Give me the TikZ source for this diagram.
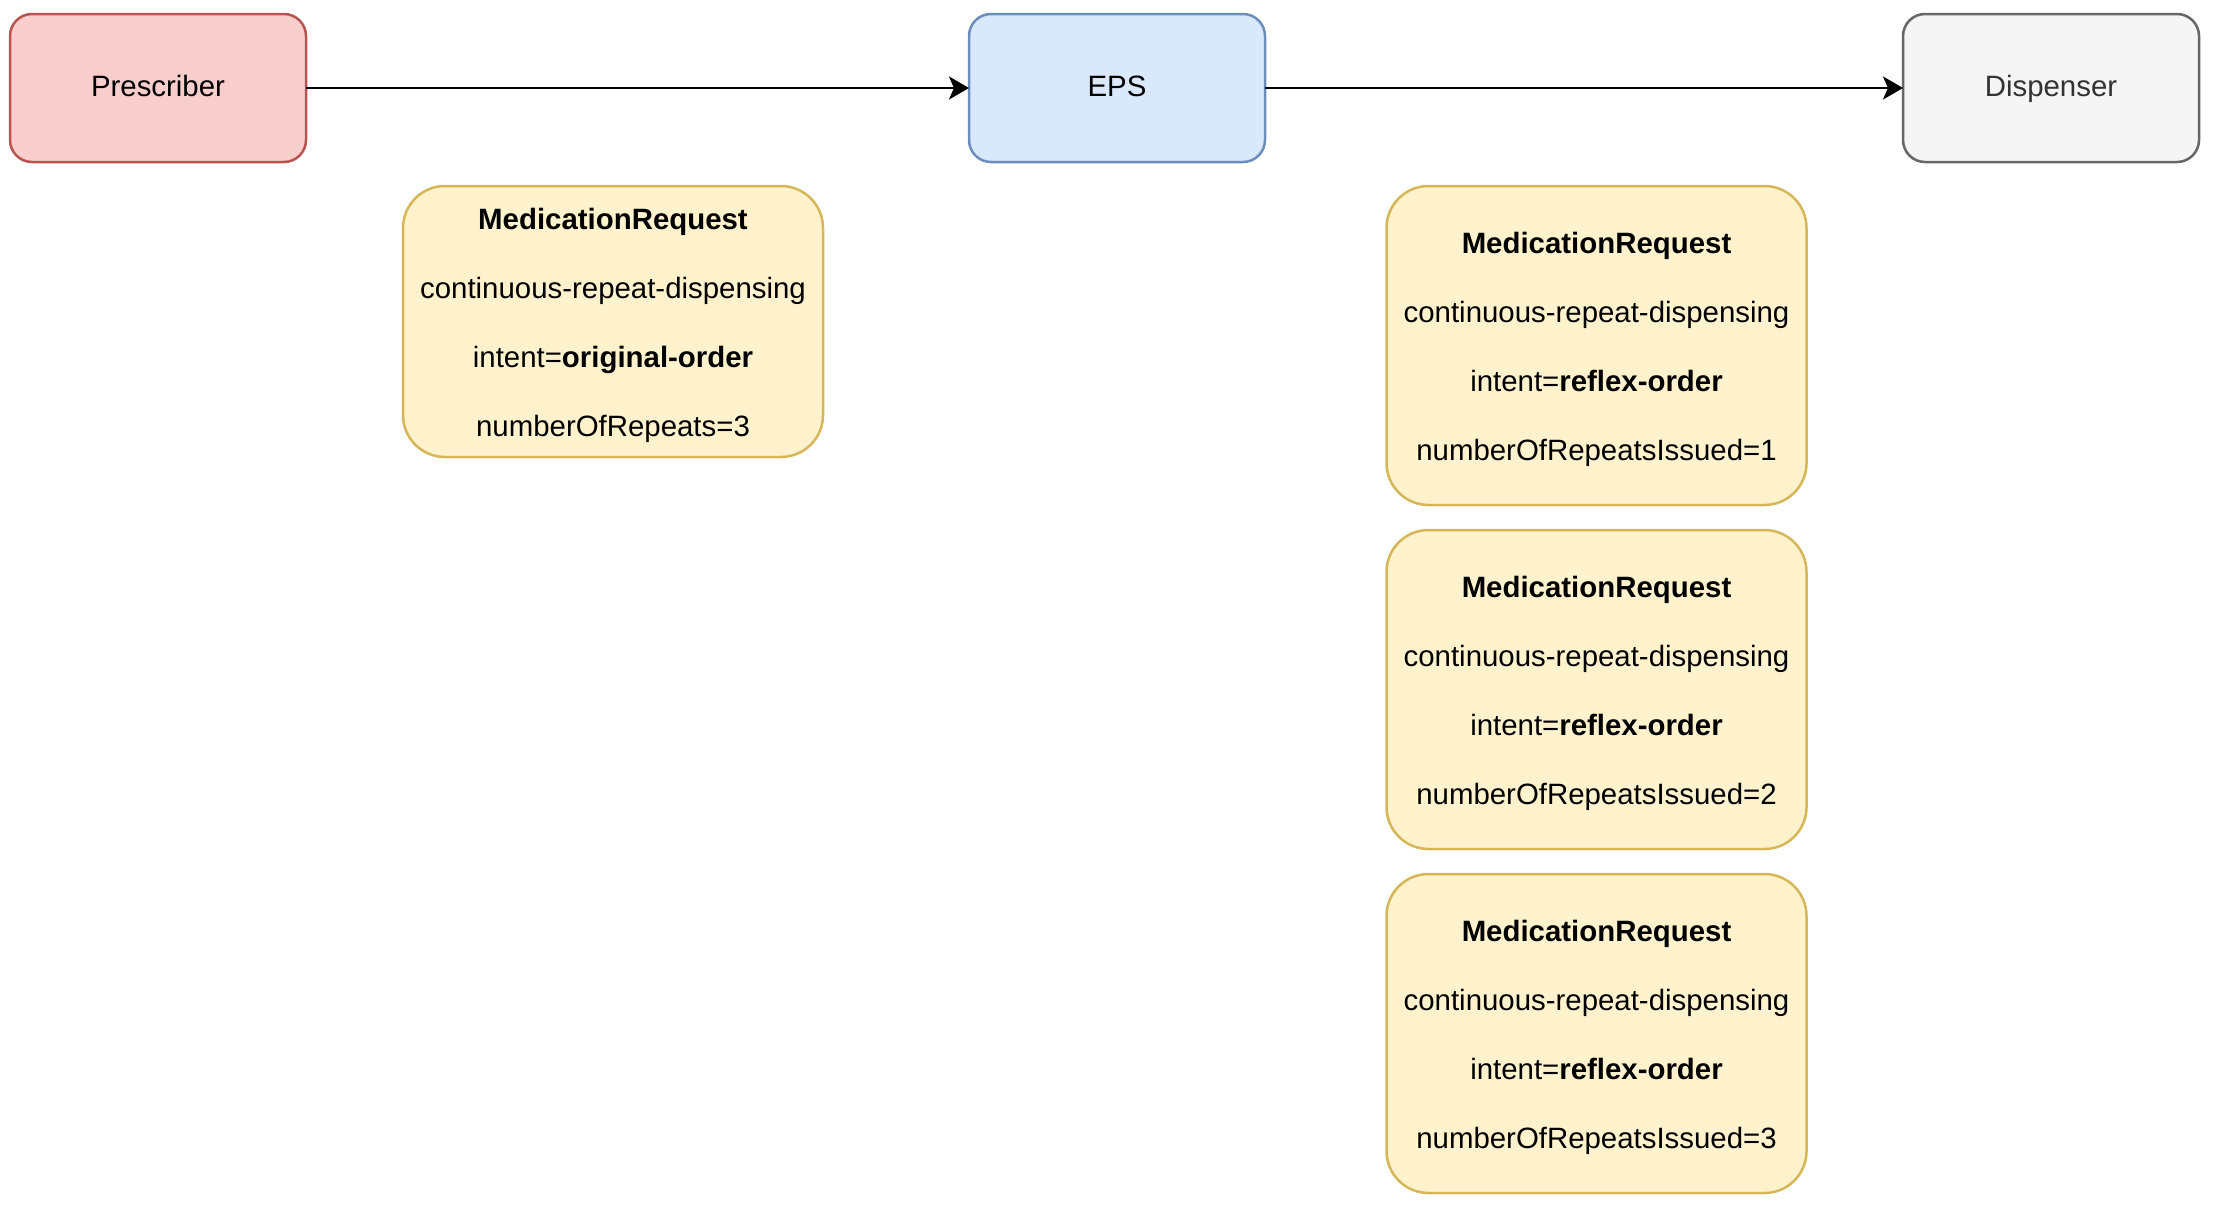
\documentclass[tikz,border=0pt]{standalone}
\usepackage{fontspec}
\setmainfont{Liberation Sans}
\usetikzlibrary{arrows.meta, positioning}

\definecolor{presfill}{HTML}{F8CECC}
\definecolor{presdraw}{HTML}{B85450}
\definecolor{epsfill}{HTML}{DAE8FC}
\definecolor{epsdraw}{HTML}{6C8EBF}
\definecolor{dispfill}{HTML}{F5F5F5}
\definecolor{dispdraw}{HTML}{666666}
\definecolor{disptext}{HTML}{333333}
\definecolor{msgfill}{HTML}{FFF2CC}
\definecolor{msgdraw}{HTML}{D6B656}

\newcommand{\msgtitle}{\rule{0pt}{14.5pt}\textbf{MedicationRequest}}

\begin{document}
\begin{tikzpicture}[
  x=0.5pt, y=-0.5pt,
  node distance=12.5pt and 331.5pt,
  actor/.style={rectangle, rounded corners=11pt, line width=1.25pt,
                minimum width=148pt, minimum height=74pt, inner sep=0pt,
                outer sep=0pt, text height=11pt, text depth=2.5pt,
                font=\fontsize{14.7}{17.6}\selectfont},
  prescriberbox/.style={actor, fill=presfill, draw=presdraw},
  epsbox/.style={actor, fill=epsfill, draw=epsdraw},
  dispenserbox/.style={actor, fill=dispfill, draw=dispdraw, text=disptext},
  msgbox/.style={rectangle, rounded corners=21pt, line width=1.25pt,
                 fill=msgfill, draw=msgdraw, minimum width=210pt,
                 minimum height=159.5pt, inner sep=0pt, outer sep=0pt,
                 align=center, font=\fontsize{14.7}{34.5}\selectfont},
  arrow/.style={-{Stealth[length=10pt, width=11.5pt, inset=2.5pt]}, line width=1.25pt}
]
\useasboundingbox (0,0) rectangle (2215,1210);
\node[prescriberbox] (prescriber) at (158,88) {Prescriber};
\node[epsbox, right=331.5pt of prescriber] (eps) {EPS};
\node[dispenserbox, right=319pt of eps] (dispenser) {Dispenser};
\node[msgbox, minimum height=135.5pt, anchor=north] (order) at (613,186) {%
  \msgtitle\\
  continuous-repeat-dispensing\\
  intent=\textbf{original-order}\\
  numberOfRepeats=3
};
\node[msgbox, anchor=north] (issue1) at (1596.5,186) {%
  \msgtitle\\
  continuous-repeat-dispensing\\
  intent=\textbf{reflex-order}\\
  numberOfRepeatsIssued=1
};
\node[msgbox, below=of issue1] (issue2) {%
  \msgtitle\\
  continuous-repeat-dispensing\\
  intent=\textbf{reflex-order}\\
  numberOfRepeatsIssued=2
};
\node[msgbox, below=of issue2] (issue3) {%
  \msgtitle\\
  continuous-repeat-dispensing\\
  intent=\textbf{reflex-order}\\
  numberOfRepeatsIssued=3
};
\draw[arrow] (prescriber) -- (eps);
\draw[arrow] (eps) -- (dispenser);
\end{tikzpicture}
\end{document}
